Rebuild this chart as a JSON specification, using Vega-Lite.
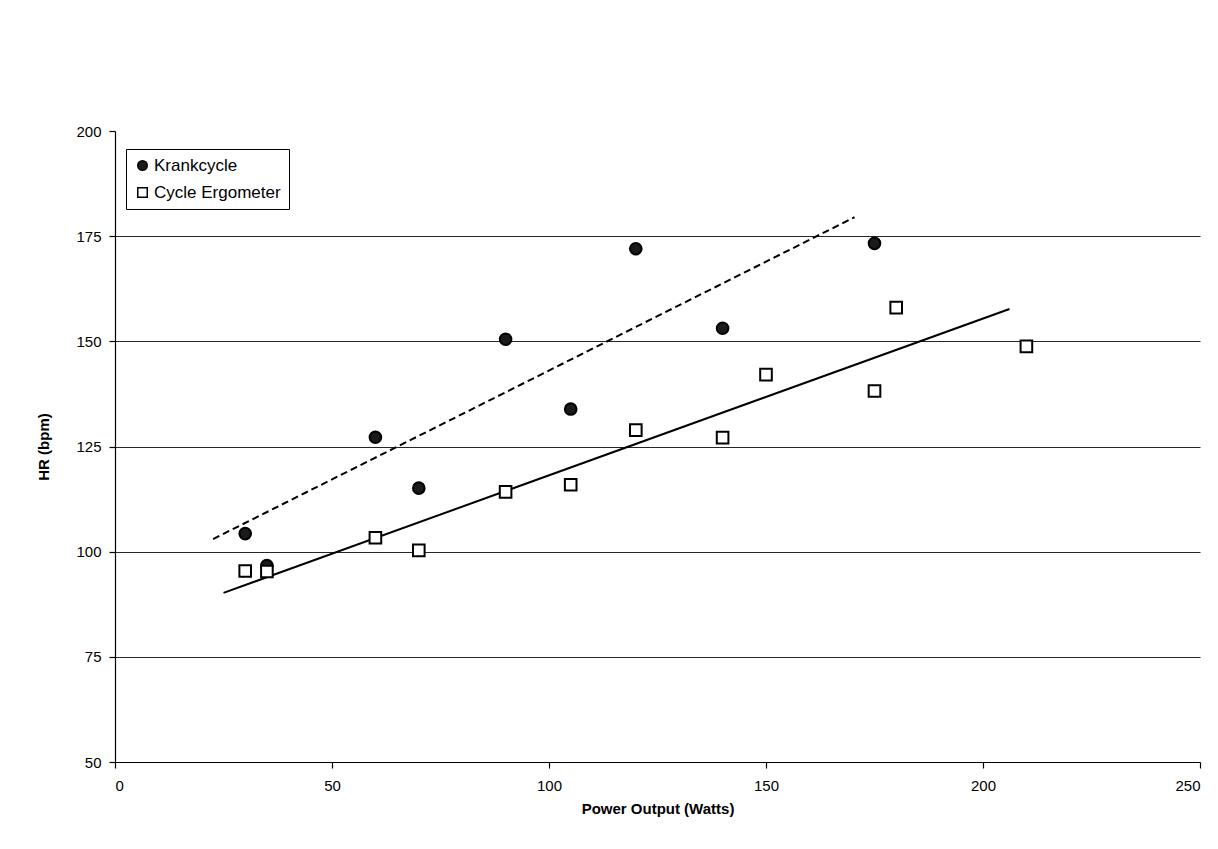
{
  "$schema": "https://vega.github.io/schema/vega-lite/v6.json",
  "autosize": "none",
  "width": 1085,
  "height": 631,
  "padding": {"left": 115, "top": 131, "right": 18, "bottom": 87},
  "background": "white",
  "config": {
    "view": {"stroke": null},
    "font": "Liberation Sans",
    "axis": {
      "domainColor": "black",
      "tickColor": "black",
      "labelColor": "black",
      "titleColor": "black",
      "labelFont": "Liberation Sans",
      "titleFont": "Liberation Sans",
      "labelFontSize": 15,
      "titleFontSize": 15,
      "titleFontWeight": "bold",
      "tickSize": 6,
      "domainWidth": 1.2,
      "tickWidth": 1.2
    },
    "legend": {
      "labelFont": "Liberation Sans",
      "labelFontSize": 17,
      "labelColor": "black"
    }
  },
  "datasets": {
    "points": [
      {"series": "Krankcycle", "watts": 30, "hr": 104.3},
      {"series": "Krankcycle", "watts": 35, "hr": 96.7},
      {"series": "Krankcycle", "watts": 60, "hr": 127.2},
      {"series": "Krankcycle", "watts": 70, "hr": 115.1},
      {"series": "Krankcycle", "watts": 90, "hr": 150.5},
      {"series": "Krankcycle", "watts": 105, "hr": 133.9},
      {"series": "Krankcycle", "watts": 120, "hr": 172.0},
      {"series": "Krankcycle", "watts": 140, "hr": 153.1},
      {"series": "Krankcycle", "watts": 175, "hr": 173.3},
      {"series": "Cycle Ergometer", "watts": 30, "hr": 95.4},
      {"series": "Cycle Ergometer", "watts": 35, "hr": 95.3},
      {"series": "Cycle Ergometer", "watts": 60, "hr": 103.3},
      {"series": "Cycle Ergometer", "watts": 70, "hr": 100.3},
      {"series": "Cycle Ergometer", "watts": 90, "hr": 114.2},
      {"series": "Cycle Ergometer", "watts": 105, "hr": 115.9},
      {"series": "Cycle Ergometer", "watts": 120, "hr": 128.9},
      {"series": "Cycle Ergometer", "watts": 140, "hr": 127.1},
      {"series": "Cycle Ergometer", "watts": 150, "hr": 142.1},
      {"series": "Cycle Ergometer", "watts": 175, "hr": 138.2},
      {"series": "Cycle Ergometer", "watts": 180, "hr": 158.0},
      {"series": "Cycle Ergometer", "watts": 210, "hr": 148.8}
    ],
    "fits": [
      {"series": "Krankcycle", "watts": 22.6, "hr": 103.0},
      {"series": "Krankcycle", "watts": 170.4, "hr": 179.5},
      {"series": "Cycle Ergometer", "watts": 25.0, "hr": 90.2},
      {"series": "Cycle Ergometer", "watts": 206.1, "hr": 157.7}
    ]
  },
  "encoding": {
    "x": {
      "field": "watts",
      "type": "quantitative",
      "scale": {"domain": [0, 250], "nice": false, "zero": false},
      "axis": {
        "title": "Power Output (Watts)",
        "values": [0, 50, 100, 150, 200, 250],
        "grid": false,
        "labelPadding": 10,
        "titlePadding": 8
      }
    },
    "y": {
      "field": "hr",
      "type": "quantitative",
      "scale": {"domain": [50, 200], "nice": false, "zero": false},
      "axis": {
        "title": "HR (bpm)",
        "values": [50, 75, 100, 125, 150, 175, 200],
        "grid": true,
        "gridColor": "black",
        "gridWidth": 1,
        "gridOpacity": {"condition": {"test": "datum.value == 200 || datum.value == 50", "value": 0}, "value": 0.85},
        "labelPadding": 8,
        "titlePadding": 24
      }
    }
  },
  "layer": [
    {
      "data": {"name": "fits"},
      "transform": [{"filter": "datum.series == 'Krankcycle'"}],
      "mark": {"type": "line", "color": "black", "strokeWidth": 2, "strokeDash": [7, 4]},
      "encoding": {}
    },
    {
      "data": {"name": "fits"},
      "transform": [{"filter": "datum.series == 'Cycle Ergometer'"}],
      "mark": {"type": "line", "color": "black", "strokeWidth": 2},
      "encoding": {}
    },
    {
      "data": {"name": "points"},
      "mark": {"type": "point", "filled": true, "strokeWidth": 2, "opacity": 1, "size": 135},
      "encoding": {
        "shape": {
          "field": "series",
          "type": "nominal",
          "scale": {"domain": ["Krankcycle", "Cycle Ergometer"], "range": ["circle", "square"]},
          "legend": {
            "title": null,
            "orient": "none",
            "legendX": 11,
            "legendY": 18,
            "strokeColor": "black",
            "fillColor": "white",
            "padding": 8,
            "rowPadding": 9,
            "symbolSize": 90,
            "symbolStrokeWidth": 1.5,
            "labelOffset": 3
          }
        },
        "fill": {
          "field": "series",
          "type": "nominal",
          "scale": {"domain": ["Krankcycle", "Cycle Ergometer"], "range": ["#1a1a1a", "white"]},
          "legend": {
            "title": null,
            "orient": "none",
            "legendX": 11,
            "legendY": 18,
            "strokeColor": "black",
            "fillColor": "white",
            "padding": 8,
            "rowPadding": 9,
            "symbolSize": 90,
            "symbolStrokeWidth": 1.5,
            "labelOffset": 3
          }
        },
        "stroke": {
          "field": "series",
          "type": "nominal",
          "scale": {"domain": ["Krankcycle", "Cycle Ergometer"], "range": ["black", "black"]},
          "legend": {
            "title": null,
            "orient": "none",
            "legendX": 11,
            "legendY": 18,
            "strokeColor": "black",
            "fillColor": "white",
            "padding": 8,
            "rowPadding": 9,
            "symbolSize": 90,
            "symbolStrokeWidth": 1.5,
            "labelOffset": 3
          }
        }
      }
    }
  ]
}
